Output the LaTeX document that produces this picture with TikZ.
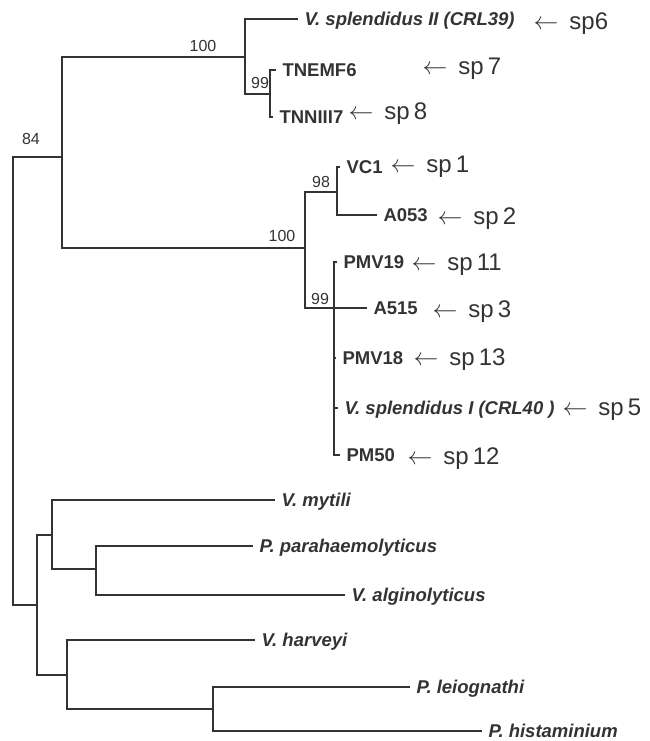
\documentclass[tikz,border=0pt]{standalone}
\usepackage{fontspec}
\setmainfont{Liberation Sans}
\newcommand{\harr}{{\fontsize{26}{26}\selectfont$\leftarrow$}\hspace{11pt}}
\begin{document}
\begin{tikzpicture}[x=1pt,y=-1pt,line width=1.1pt,color=black!80,
  leaf/.style={anchor=west,inner xsep=6pt,inner ysep=0pt,text height=13.2pt,text depth=0pt,
    font=\fontsize{18.5}{20}\selectfont\bfseries},
  spec/.style={leaf,font=\fontsize{18.5}{20}\selectfont\bfseries\itshape},
  boot/.style={inner sep=0pt,font=\fontsize{16}{16}\selectfont},
  note/.style={anchor=base west,inner sep=0pt,font=\fontsize{24}{24}\selectfont}]
\useasboundingbox (0,0) rectangle (649,741);
% inner nodes
\coordinate (R) at (13,381);
\coordinate (A) at (62,157);
\coordinate (B) at (245,57);
\coordinate (D) at (270,94);
\coordinate (C) at (305,248);
\coordinate (E) at (337,192);
\coordinate (F) at (334,308);
\coordinate (G) at (37,605);
\coordinate (H) at (52,535);
\coordinate (J) at (96,569);
\coordinate (I) at (67,675);
\coordinate (K) at (213,709);
% leaves
\node[spec] (vs2) at (298,19) {V. splendidus II (CRL39)};
\node[leaf] (tnemf) at (276,70) {TNEMF6};
\node[leaf] (tnn) at (273,117) {TNNIII7};
\node[leaf] (vc1) at (340,167) {VC1};
\node[leaf] (a053) at (377,215) {A053};
\node[leaf] (pmv19) at (337,262) {PMV19};
\node[leaf] (a515) at (367,308) {A515};
\node[leaf] (pmv18) at (336,358) {PMV18};
\node[spec] (vs1) at (338,408) {V. splendidus I (CRL40 )};
\node[leaf] (pm50) at (340,455) {PM50};
\node[spec] (myt) at (275,500) {V. mytili};
\node[spec] (para) at (253,546) {P. parahaemolyticus};
\node[spec] (algi) at (345,595) {V. alginolyticus};
\node[spec] (harv) at (255,640) {V. harveyi};
\node[spec] (leio) at (410,687) {P. leiognathi};
\node[spec] (hist) at (482,731) {P. histaminium};
% branches
\draw (R) |- (A);
\draw (R) |- (G);
\draw (A) |- (B);
\draw (A) |- (C);
\draw (B) |- (vs2.west);
\draw (B) |- (D);
\draw (D) |- (tnemf.west);
\draw (D) |- (tnn.west);
\draw (C) |- (E);
\draw (C) |- (F);
\draw (E) |- (vc1.west);
\draw (E) |- (a053.west);
\foreach \n in {pmv19,a515,pmv18,vs1,pm50}
    \draw (F) |- (\n.west);
\draw (G) |- (H);
\draw (G) |- (I);
\draw (H) |- (myt.west);
\draw (H) |- (J);
\draw (J) |- (para.west);
\draw (J) |- (algi.west);
\draw (I) |- (harv.west);
\draw (I) |- (K);
\draw (K) |- (leio.west);
\draw (K) |- (hist.west);
% bootstrap values
\node[boot] (bA) at (31,139) {84};
\node[boot] (bB) at (203,46) {100};
\node[boot] (bD) at (260,83) {99};
\node[boot] (bE) at (321,182) {98};
\node[boot] (bC) at (282,236) {100};
\node[boot] (bF) at (320,299) {99};
% handwritten notes
\node[note] (n6) at (533,30) {\harr sp6};
\node[note] (n7) at (422,75) {\harr sp\,7};
\node[note] (n8) at (348,120) {\harr sp\,8};
\node[note] (n1) at (390,172) {\harr sp\,1};
\node[note] (n2) at (437,224) {\harr sp\,2};
\node[note] (n11) at (411,270) {\harr sp\,11};
\node[note] (n3) at (432,317) {\harr sp\,3};
\node[note] (n13) at (413,365) {\harr sp\,13};
\node[note] (n5) at (562,415) {\harr sp\,5};
\node[note] (n12) at (407,464) {\harr sp\,12};
\end{tikzpicture}
\end{document}
